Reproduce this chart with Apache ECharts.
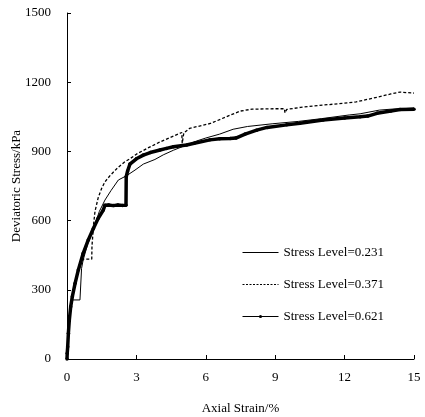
<!DOCTYPE html>
<html>
<head>
<meta charset="utf-8">
<script src="https://cdn.jsdelivr.net/npm/echarts@6/dist/echarts.min.js"></script>
<style>html,body{margin:0;padding:0;background:#fff}#c{width:425px;height:417px}</style>
</head>
<body>
<div id="c"></div>
<script>
const seriesNames = ["Stress Level=0.231", "Stress Level=0.371", "Stress Level=0.621"];
const xTicks = [0, 3, 6, 9, 12, 15];
const yTicks = [0, 300, 600, 900, 1200, 1500];

const strainA = [0, 0.05, 0.1, 0.2, 0.56, 0.63, 0.7, 0.9, 1.21, 1.4, 1.64, 1.9, 2.22, 2.58, 2.94, 3.3, 3.8, 4.16, 4.6, 5.17, 5.6, 6.0, 6.6, 7.18, 7.8, 8.9, 10, 11, 12.2, 12.67, 13.5, 14, 14.5, 15];
const stressA = [0, 80, 150, 256, 256, 393, 430, 500, 585, 640, 689, 730, 776, 795, 819, 845, 865, 885, 905, 928, 945, 958, 975, 996, 1008, 1020, 1030, 1042, 1058, 1063, 1079, 1083, 1085, 1088];

const strainB = [0, 0.05, 0.1, 0.2, 0.35, 0.5, 0.7, 1.07, 1.08, 1.15, 1.21, 1.35, 1.5, 1.64, 1.86, 2.2, 2.5, 2.72, 3.0, 3.5, 4.0, 4.5, 4.96, 4.98, 5.05, 5.3, 6.2, 7.0, 7.5, 8.0, 9.0, 9.4, 9.42, 9.5, 10.1, 11.1, 12.2, 12.5, 13.2, 14.0, 14.4, 15];
const stressB = [0, 90, 170, 265, 330, 390, 433, 433, 490, 585, 640, 700, 740, 768, 795, 830, 855, 868, 888, 915, 940, 962, 982, 935, 980, 1000, 1021, 1055, 1075, 1083, 1085, 1085, 1067, 1082, 1091, 1101, 1111, 1115, 1130, 1149, 1157, 1153];

const strainC = [0, 0.01, 0.03, 0.06, 0.1, 0.16, 0.23, 0.35, 0.49, 0.7, 0.92, 1.14, 1.35, 1.57, 1.64, 1.8, 2.0, 2.2, 2.4, 2.55, 2.56, 2.62, 2.72, 3.0, 3.3, 3.6, 4.02, 4.3, 4.6, 5.17, 5.5, 6.18, 6.6, 7.05, 7.3, 7.7, 8.2, 8.65, 9.5, 10.07, 11.07, 12.0, 12.67, 13.0, 13.4, 14.0, 14.4, 15];
const stressC = [0, 25, 53, 112, 169, 227, 270, 328, 386, 458, 516, 566, 610, 646, 667, 668, 665, 668, 666, 667, 790, 815, 845, 868, 884, 895, 906, 913, 920, 928, 935, 950, 955, 956, 958, 975, 992, 1004, 1015, 1022, 1036, 1045, 1050, 1053, 1065, 1075, 1082, 1083];

const zip = (xs, ys) => xs.map((x, i) => [x, ys[i]]);
const FONT = "Liberation Serif";

const chart = echarts.init(document.getElementById('c'), null, {renderer: 'canvas'});
chart.setOption({
  animation: false,
  backgroundColor: '#fff',
  grid: {left: 67, right: 11, top: 13, bottom: 58, containLabel: false, outerBoundsMode: 'none'},
  legend: {
    orient: 'vertical',
    left: 242, top: 246, padding: 0,
    itemWidth: 36, itemHeight: 4, itemGap: 19,
    textStyle: {fontFamily: FONT, fontSize: 13, color: '#000'},
    lineStyle: {width: 1},
    data: [
      {name: seriesNames[0], lineStyle: {width: 1, type: 'solid'}, itemStyle: {opacity: 0}},
      {name: seriesNames[1], lineStyle: {width: 1, type: [2, 1.5]}, itemStyle: {opacity: 0}},
      {name: seriesNames[2], lineStyle: {width: 1, type: 'solid'}, itemStyle: {color: '#000', opacity: 1}}
    ]
  },
  xAxis: {
    type: 'value', min: xTicks[0], max: xTicks[xTicks.length - 1], interval: 3,
    name: 'Axial Strain/%', nameLocation: 'middle', nameGap: 43, nameMoveOverlap: false,
    nameTextStyle: {fontFamily: FONT, fontSize: 13, color: '#000'},
    axisLine: {lineStyle: {color: '#000', width: 1}},
    axisTick: {inside: true, length: 4, lineStyle: {color: '#000'}},
    axisLabel: {fontFamily: FONT, fontSize: 13, color: '#000', margin: 12},
    splitLine: {show: false}
  },
  yAxis: {
    type: 'value', min: yTicks[0], max: yTicks[yTicks.length - 1], interval: 300,
    name: 'Deviatoric Stress/kPa', nameLocation: 'middle', nameGap: 44, nameMoveOverlap: false,
    nameTextStyle: {fontFamily: FONT, fontSize: 13, color: '#000'},
    axisLine: {show: true, lineStyle: {color: '#000', width: 1}},
    axisTick: {show: true, inside: true, length: 4, lineStyle: {color: '#000'}},
    axisLabel: {fontFamily: FONT, fontSize: 13, color: '#000', margin: 16, formatter: v => String(v)},
    splitLine: {show: false}
  },
  series: [
    {name: seriesNames[0], type: 'line', data: zip(strainA, stressA), showSymbol: false, symbol: 'none',
     lineStyle: {color: '#000', width: 1}, itemStyle: {color: '#000'}, z: 3},
    {name: seriesNames[1], type: 'line', data: zip(strainB, stressB), showSymbol: false, symbol: 'none',
     lineStyle: {color: '#000', width: 1.3, type: [3, 2]}, itemStyle: {color: '#000'}, z: 2},
    {name: seriesNames[2], type: 'line', data: zip(strainC, stressC), symbol: 'circle', symbolSize: 3.5, showSymbol: true,
     lineStyle: {color: '#000', width: 3.5}, itemStyle: {color: '#000'}, z: 4}
  ]
});
</script>
</body>
</html>
